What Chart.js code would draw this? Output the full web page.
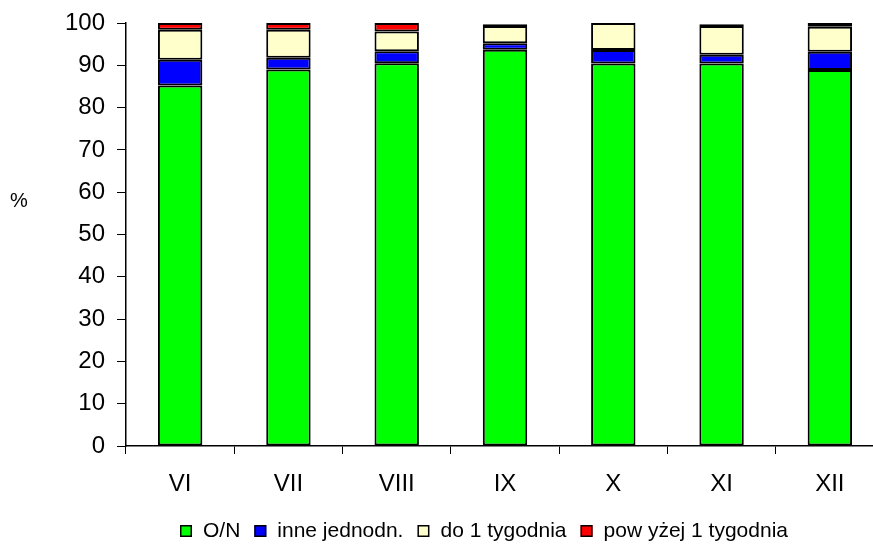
<!DOCTYPE html>
<html>
<head>
<meta charset="utf-8">
<script src="https://cdn.jsdelivr.net/npm/chart.js@4/dist/chart.umd.min.js"></script>
<style>
  html, body { margin: 0; padding: 0; background: #fff; overflow: hidden; }
  canvas { display: block; }
</style>
</head>
<body>
<canvas id="c" width="900" height="544"></canvas>
<script>
// Months (Roman numerals) and the share of each maturity bucket, in %
const months = ['VI', 'VII', 'VIII', 'IX', 'X', 'XI', 'XII'];
const overnight = [85.2, 89.0, 90.5, 93.7, 90.4, 90.4, 88.9];
const otherOneDay = [6.1, 2.8, 2.8, 1.5, 3.2, 2.1, 4.3];
const upToOneWeek = [7.1, 6.6, 4.7, 4.1, 6.4, 6.8, 5.9];
const overOneWeek = [1.6, 1.6, 2.0, 0.4, 0.0, 0.4, 0.9];
const seriesNames = ['O/N', 'inne jednodn.', 'do 1 tygodnia', 'pow yżej 1 tygodnia'];
const yTicks = [0, 10, 20, 30, 40, 50, 60, 70, 80, 90, 100];

const FONT = '"Liberation Sans", Arial, sans-serif';
const colors = ['#00FF00', '#0000FF', '#FFFFCC', '#FF0000'];
const values = [overnight, otherOneDay, upToOneWeek, overOneWeek];

// Legend and the horizontal "%" unit label, drawn on the canvas
const extras = {
  id: 'extras',
  afterDraw(chart) {
    const ctx = chart.ctx;
    ctx.save();
    ctx.fillStyle = '#000';
    ctx.font = '20px ' + FONT;
    ctx.textBaseline = 'middle';
    ctx.textAlign = 'left';
    ctx.fillText('%', 10, 201);

    const box = 12, gapText = 11, gapItem = 14;
    ctx.font = '21px ' + FONT;
    const widths = seriesNames.map(n => ctx.measureText(n).width);
    let total = 0;
    widths.forEach((w, i) => { total += box + gapText + w + (i < widths.length - 1 ? gapItem : 0); });
    let x = 484 - total / 2;
    const cy = 531;
    chart.data.datasets.forEach((ds, i) => {
      ctx.fillStyle = ds.backgroundColor;
      ctx.fillRect(x, cy - box / 2, box, box);
      ctx.strokeStyle = '#000';
      ctx.lineWidth = 1.5;
      ctx.strokeRect(x + 0.75, cy - box / 2 + 0.75, box - 1.5, box - 1.5);
      ctx.fillStyle = '#000';
      ctx.fillText(ds.label, x + box + gapText, cy);
      x += box + gapText + widths[i] + gapItem;
    });
    ctx.restore();
  }
};

new Chart(document.getElementById('c'), {
  type: 'bar',
  data: {
    labels: months,
    datasets: seriesNames.map((name, i) => ({
      label: name,
      data: values[i],
      backgroundColor: colors[i],
      borderColor: '#000',
      borderWidth: 2,
      borderSkipped: false,
      categoryPercentage: 1,
      barPercentage: 0.41
    }))
  },
  options: {
    responsive: false,
    animation: false,
    layout: { padding: { top: 23, right: 16, left: 0, bottom: 0 } },
    plugins: {
      legend: { display: false },
      tooltip: { enabled: false }
    },
    scales: {
      x: {
        stacked: true,
        grid: {
          offset: true,
          drawOnChartArea: false,
          drawTicks: true,
          tickLength: 8,
          color: '#000',
          lineWidth: 1
        },
        border: { display: true, color: '#000', width: 1.5 },
        ticks: {
          color: '#000',
          font: { family: FONT, size: 24 },
          padding: 16,
          maxRotation: 0
        },
        afterFit(scale) {
          scale.height = 98;
          scale.paddingLeft = 0;
          scale.paddingRight = 0;
        }
      },
      y: {
        stacked: true,
        min: 0,
        max: 100,
        afterBuildTicks(scale) { scale.ticks = yTicks.map(v => ({ value: v })); },
        grid: {
          drawOnChartArea: false,
          drawTicks: true,
          tickLength: 9,
          color: '#000',
          lineWidth: 1
        },
        border: { display: true, color: '#000', width: 1.5 },
        ticks: {
          color: '#000',
          font: { family: FONT, size: 24 },
          padding: 12
        },
        afterFit(scale) {
          scale.width = 126;
          scale.paddingTop = 0;
          scale.paddingBottom = 0;
        }
      }
    }
  },
  plugins: [extras]
});
</script>
</body>
</html>
